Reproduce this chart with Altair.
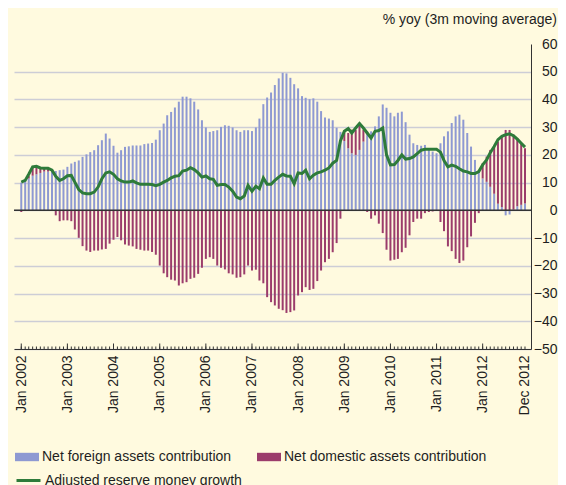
import altair as alt
import pandas as pd

# ---------------- data ----------------
months = pd.date_range("2002-01-01", periods=132, freq="MS").strftime("%Y-%m-%d").tolist()

nfa = [10, 10.5, 11.5, 12.5, 13, 13.5, 14, 14, 14, 14.2,
       14.5, 14.7, 15.7, 16.9, 17.5, 18, 19.3, 20.2, 21, 21.7,
       23.5, 25.3, 27.7, 25.9, 23.3, 20.8, 21.7, 22.9, 23.1, 23.4,
       23.4, 23.4, 23.9, 24.1, 24.3, 25.5, 28.9, 31.3, 34.3, 35.5,
       37.1, 39.2, 41, 41, 40.4, 39.2, 36.4, 32.5, 29.9, 28.3,
       28.6, 28.9, 30.1, 30.7, 30.5, 29.9, 28.9, 28.3, 28.9, 28.9,
       28.6, 29.9, 33.1, 38.3, 40.7, 42.5, 45.2, 47.6, 49.6, 49.4,
       47.8, 45.5, 44, 41.2, 40.6, 40.1, 40.4, 39.2, 35.8, 33.5,
       33.1, 32.5, 29.8, 28.3, 25, 22.4, 20.6, 20, 21.8, 24.8,
       28.5, 28.5, 30.3, 33.9, 38.2, 37, 35.2, 33.9, 35.2, 35.6,
       31.8, 27.3, 24.2, 23.6, 23.3, 23.6, 22.4, 21.2, 20.6, 24.2,
       26.7, 28.5, 31.5, 33.9, 34.5, 32.7, 27.9, 23, 18.2, 14,
       11.5, 10.3, 8.5, 6, 2.4, 1.2, -1.8, -1.5, 0.3, 1.5, 2, 2.5]

nda = [-0.6, 0.3, 1, 3, 2.5, 1.5, 1, 1, 0.8, -1.8,
       -3.9, -3.6, -3.6, -3.9, -6.9, -9.9, -12.9, -14.5, -15, -14.5,
       -14.5, -14.1, -13.9, -12, -10.6, -9.6, -10.8, -12.3, -12.7, -13,
       -13.9, -14.2, -14.5, -14.5, -15, -16, -19.9, -22.7, -24.1, -25,
       -25.3, -27.1, -26.3, -25.9, -24.7, -24.3, -22.9, -20.7, -17.5, -16.9,
       -17.5, -19.9, -20.7, -21.3, -22.7, -23.1, -24.3, -24.1, -23.1, -19.9,
       -21.7, -21.4, -25.3, -26.3, -31.3, -33.1, -34.3, -35.5, -36, -37,
       -36.7, -36.1, -30.7, -29.5, -27.7, -28.7, -28.3, -25.5, -21.7, -18.7,
       -17.5, -15.1, -11.8, -3, 3, 5.5, 8.5, 9, 9, 4.3,
       -0.6, -3, -1.8, -4.8, -8.2, -14.2, -18.1, -17.8, -17.5, -15.1,
       -13.5, -9, -4.2, -3, -3, -1, -0.6, -0.4, -0.2, -4.2,
       -7.5, -13, -14.7, -17.5, -19, -18.1, -13.3, -9.4, -4.5, -1,
       5.5, 9.1, 13.3, 17, 22.4, 25.5, 29, 29, 27, 24.5, 22.2, 19.9]

growth = [10.2, 10.8, 13, 15.7, 15.9, 15.3, 15.2, 15.2, 14.5, 12.3,
          10.8, 11.4, 12.5, 12.6, 10.2, 7.5, 6.3, 6, 6, 6.6,
          8.4, 11.4, 13.5, 13.9, 13, 11.4, 10.6, 10.2, 10.2, 10.6,
          9.9, 9.4, 9.4, 9.4, 9.3, 8.9, 9.4, 10.2, 10.8, 11.7,
          12.3, 12.5, 14.2, 14.5, 15.4, 14.7, 13.5, 12, 12.4, 11.4,
          11.2, 9, 9.3, 9.3, 8.4, 6.9, 4.8, 4.2, 5.2, 9,
          6.9, 8.7, 7.8, 11.7, 9.4, 9.4, 10.8, 12, 13, 12.4,
          12.3, 9.6, 13.5, 13.3, 14.5, 11.4, 12.7, 13.5, 13.9, 14.5,
          15.3, 17, 18, 25, 28.5, 29.5, 27.9, 29.7, 31.3, 29.7,
          27.9, 26.1, 28.5, 28.8, 29.7, 20, 16.4, 16.5, 18, 20,
          18.5, 18.7, 19.3, 20.5, 21.7, 22, 22, 22, 22, 21,
          18, 15.7, 16.3, 15.9, 15, 14.2, 13.9, 13.3, 13.3, 14,
          16.4, 18.2, 20.8, 23, 25.5, 26.7, 27.3, 27.6, 26.9, 25.7, 24.2, 22.8]

series_names = ["Net foreign assets contribution", "Net domestic assets contribution"]
line_name = "Adjusted reserve money growth"
label_years = list(range(2002, 2013))
y_ticks = list(range(-50, 61, 10))
zero_value = [0]

# ---------------- style ----------------
FONT = "Liberation Sans, Arial, Helvetica, sans-serif"
BG = "#FFFADF"
BLUE = "#8E99D2"
MAROON = "#9B3C6B"
GREEN = "#2E7B3A"
DARK = "#333333"
TEXT = "#1E1E1E"
GRID = "#CDCDD6"
W, H = 517, 305

bars_df = pd.DataFrame({
    "date": months * 2,
    "value": nfa + nda,
    "series": [series_names[0]] * len(months) + [series_names[1]] * len(months),
    "order": [0] * len(months) + [1] * len(months),
})
line_df = pd.DataFrame({"date": months, "value": growth, "series": line_name})
ticks_df = pd.DataFrame({"date": months, "jan": [m.endswith("-01-01") for m in months]})
zero_df = pd.DataFrame({"zero": zero_value})

x_scale = alt.Scale(type="utc",
                    domain=[alt.DateTime(year=2001, month=12, date=14, utc=True),
                            alt.DateTime(year=2012, month=12, date=9, utc=True)])
y_scale = alt.Scale(domain=[-50, 60], nice=False, zero=False)

x_label_values = [alt.DateTime(year=y, month=1, date=1, utc=True) for y in label_years] + \
                 [alt.DateTime(year=2012, month=12, date=1, utc=True)]

x_axis = alt.Axis(orient="bottom", values=x_label_values, format="%b %Y",
                  labelAngle=-90, labelAlign="right", labelBaseline="middle",
                  labelPadding=6, labelFontSize=14, labelFont=FONT, labelColor=TEXT,
                  ticks=False, grid=False, domain=True, domainColor=DARK,
                  domainWidth=1, title=None, labelOverlap=False)


def xenc():
    return alt.X("date:T", scale=x_scale, axis=x_axis)


bars = alt.Chart(bars_df).mark_bar(size=2).encode(
    x=xenc(),
    y=alt.Y("value:Q", scale=y_scale, stack="zero",
            axis=alt.Axis(orient="right", values=y_ticks, ticks=False, domain=True,
                          domainColor=DARK, domainWidth=1, grid=True, gridColor=GRID,
                          gridWidth=1.5,
                          gridOpacity={"condition": {"test": "datum.value >= 60", "value": 0}, "value": 1},
                          labelAlign="right", labelPadding=26, labelFontSize=14,
                          labelFont=FONT, labelColor=TEXT, title=None)),
    fill=alt.Fill("series:N", scale=alt.Scale(domain=series_names, range=[BLUE, MAROON]),
                  legend=alt.Legend(orient="none", legendX=1, legendY=401, direction="horizontal",
                                    title=None, symbolType="M-1,-0.35L1,-0.35L1,0.35L-1,0.35Z",
                                    symbolSize=576, symbolStrokeWidth=0, labelFontSize=14,
                                    labelFont=FONT, labelColor=TEXT, labelOffset=3,
                                    columnPadding=25, labelLimit=400)),
    order=alt.Order("order:Q"),
)

zero_line = alt.Chart(zero_df).mark_rule(color=DARK, strokeWidth=1.5).encode(
    y=alt.Y("zero:Q", scale=y_scale, axis=None)
)

minor_ticks = alt.Chart(ticks_df).mark_rule(color=DARK, strokeWidth=1).encode(
    x=xenc(),
    y=alt.value(H), y2=alt.value(H - 2.5),
)
major_ticks = alt.Chart(ticks_df).transform_filter("datum.jan").mark_rule(color=DARK, strokeWidth=1).encode(
    x=xenc(),
    y=alt.value(H), y2=alt.value(H - 5.5),
)

line = alt.Chart(line_df).mark_line(strokeWidth=3).encode(
    x=xenc(),
    y=alt.Y("value:Q", scale=y_scale,
            axis=alt.Axis(orient="left", position=W, values=[60], ticks=True, tickSize=7,
                          tickColor=DARK, tickWidth=1, labels=False, domain=False,
                          grid=False, title=None)),
    stroke=alt.Stroke("series:N", scale=alt.Scale(domain=[line_name], range=[GREEN]),
                      legend=alt.Legend(orient="none", legendX=1, legendY=423, title=None,
                                        symbolType="stroke", symbolSize=576,
                                        symbolStrokeWidth=3, labelFontSize=14,
                                        labelFont=FONT, labelColor=TEXT, labelOffset=3,
                                        labelLimit=400)),
)

chart = alt.layer(bars, zero_line, minor_ticks, major_ticks, line).resolve_axis(
    y="independent"
).properties(
    width=W, height=H,
    title=alt.TitleParams("% yoy (3m moving average)", anchor="end", frame="group",
                          fontSize=14, fontWeight="normal", font=FONT, color=TEXT,
                          dx=26, offset=10),
    autosize=alt.AutoSizeParams(type="none"),
    padding={"left": 6, "top": 36, "right": 27, "bottom": 136},
).configure(background=BG).configure_view(stroke=None)

chart.save("out.html", embed_options={"renderer": "svg", "actions": False})
